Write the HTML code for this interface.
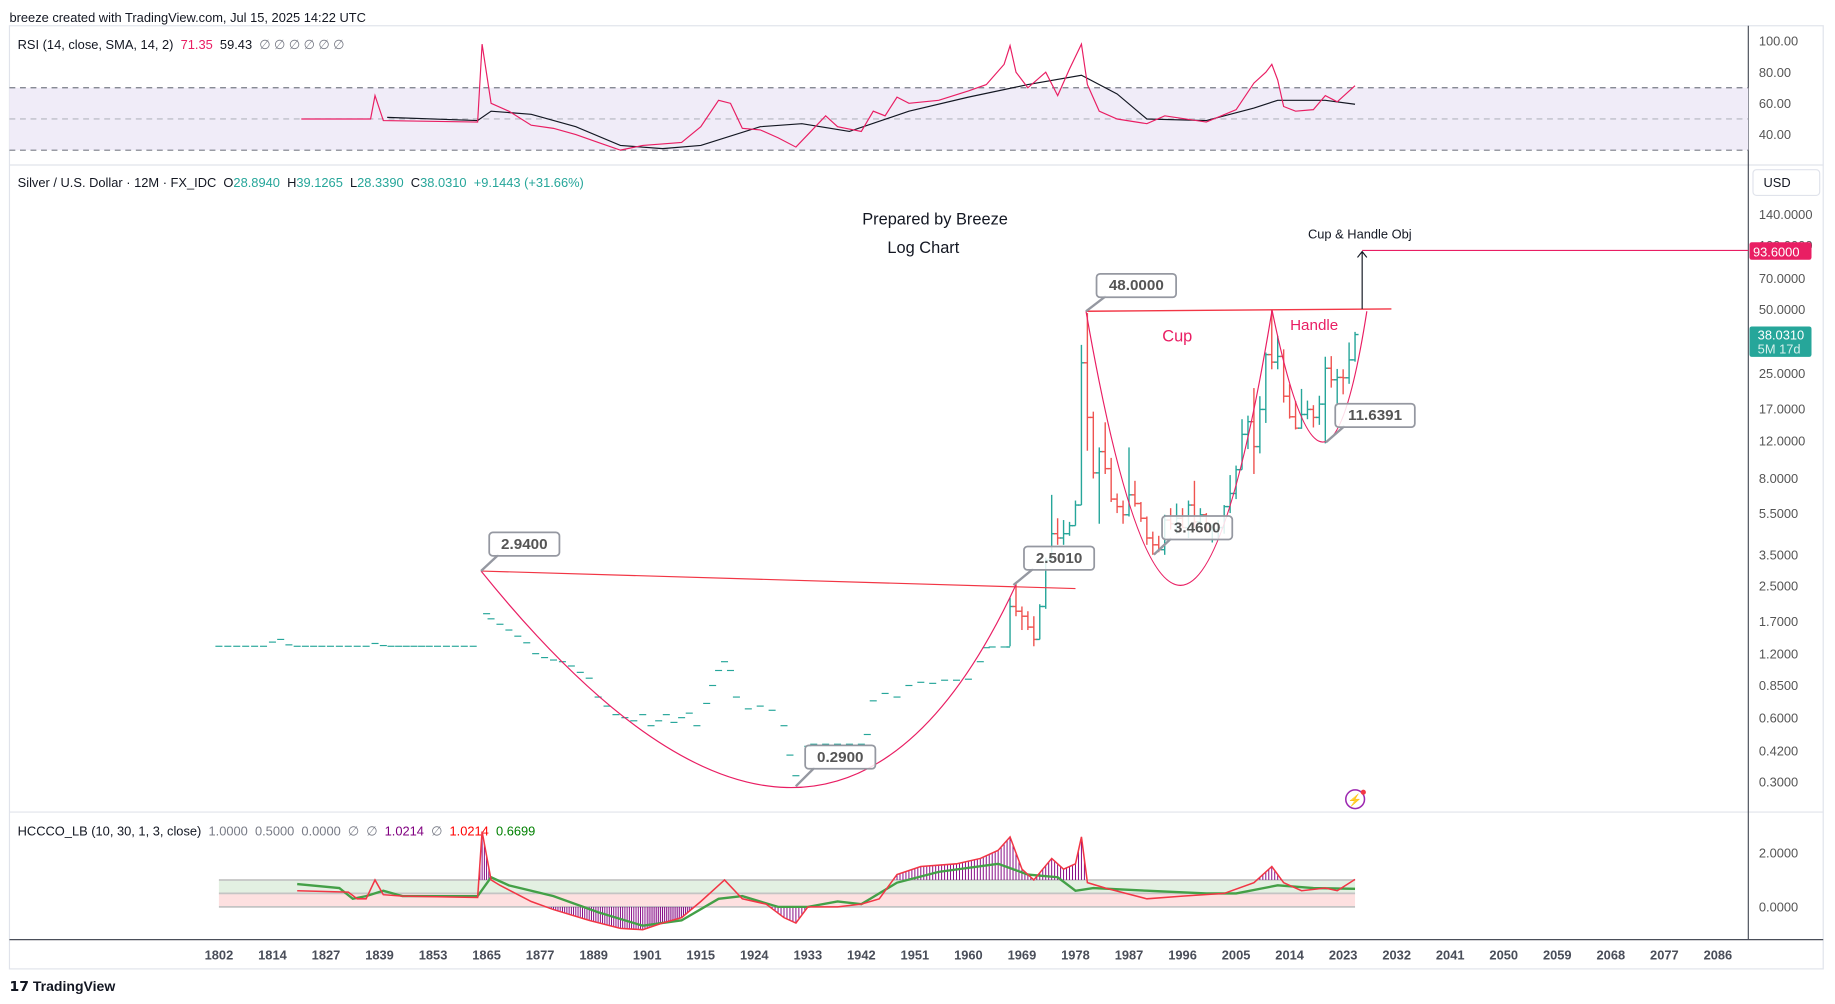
<!DOCTYPE html>
<html><head><meta charset="utf-8">
<style>
html,body{margin:0;padding:0;background:#fff;width:1835px;height:1004px;overflow:hidden}
svg{display:block;font-family:"Liberation Sans",sans-serif}
text{white-space:pre}
</style></head>
<body>
<svg id="chart" width="1835" height="1004" viewBox="0 0 1568 858" xmlns="http://www.w3.org/2000/svg">
<rect x="0" y="0" width="1568" height="858" fill="#fff"/>
<text x="8" y="19" font-size="11" fill="#131722">breeze created with TradingView.com, Jul 15, 2025 14:22 UTC</text>
<rect x="8" y="22" width="1550" height="806" fill="none" stroke="#e0e3eb"/>
<line x1="8" y1="141" x2="1558" y2="141" stroke="#e0e3eb"/>
<line x1="8" y1="694" x2="1558" y2="694" stroke="#e0e3eb"/>
<line x1="8" y1="803" x2="1558" y2="803" stroke="#4a4e59"/>
<line x1="1494" y1="22" x2="1494" y2="803" stroke="#4a4e59"/>
<g id="g"></g>
<text x="8" y="847" font-size="12" font-weight="bold" fill="#131722">𝟭𝟳 TradingView</text>
</svg>
<script>
// ---------- DATA ----------
const timeLabels=[1802,1814,1827,1839,1853,1865,1877,1889,1901,1915,1924,1933,1942,1951,1960,1969,1978,1987,1996,2005,2014,2023,2032,2041,2050,2059,2068,2077,2086];
const earlyYears=[1802,1804,1806,1808,1810,1812,1814,1816,1818,1820,1822,1824,1826,1828,1830,1832,1834,1836,1838,1840,1842,1844,1846,1848,1850,1852,1854,1856,1858,1860,1862,1865,1866,1868,1870,1872,1874,1876,1878,1880,1882,1884,1886,1888,1890,1892,1894,1896,1898,1900,1902,1904,1906,1908,1910,1912,1914,1916,1917,1918,1919,1920,1921,1923,1925,1927,1929,1930,1931,1933,1934,1936,1938,1940,1942,1943,1944,1946,1948,1950,1952,1954,1956,1958,1960,1962,1963,1964,1966];
const earlyCloses=[1.3,1.3,1.3,1.3,1.3,1.3,1.36,1.4,1.32,1.3,1.3,1.3,1.3,1.3,1.3,1.3,1.3,1.3,1.34,1.31,1.3,1.3,1.3,1.3,1.3,1.3,1.3,1.3,1.3,1.3,1.3,1.85,1.75,1.65,1.55,1.45,1.35,1.2,1.15,1.12,1.1,1.05,0.98,0.92,0.75,0.68,0.62,0.6,0.58,0.62,0.55,0.58,0.62,0.57,0.6,0.63,0.55,0.7,0.85,1.0,1.1,1.0,0.75,0.66,0.68,0.65,0.55,0.4,0.32,0.44,0.45,0.45,0.45,0.45,0.45,0.5,0.72,0.78,0.75,0.85,0.88,0.87,0.9,0.9,0.91,1.1,1.28,1.29,1.29];
const barYears=[1967,1968,1969,1970,1971,1972,1973,1974,1975,1976,1977,1978,1979,1980,1981,1982,1983,1984,1985,1986,1987,1988,1989,1990,1991,1992,1993,1994,1995,1996,1997,1998,1999,2000,2001,2002,2003,2004,2005,2006,2007,2008,2009,2010,2011,2012,2013,2014,2015,2016,2017,2018,2019,2020,2021,2022,2023,2024,2025];
const barCloses=[2.0,1.9,1.8,1.6,1.4,2.0,3.3,4.4,4.2,4.4,4.8,6.0,28,15.5,8.5,10.7,8.9,6.4,5.9,5.4,6.7,6.1,5.2,4.2,3.9,3.7,5.1,4.9,5.2,4.7,6.0,5.0,5.4,4.6,4.6,4.7,5.9,6.8,8.8,12.9,14.8,11.3,16.9,30.6,28.2,30.0,19.5,15.6,13.8,16.0,16.9,15.5,17.9,26.4,23.3,23.9,23.8,28.9,38.03];
const barHighs=[2.2,2.56,2.0,1.9,1.8,2.05,3.4,6.7,5.2,5.1,5.0,6.3,34,48,16.5,11.2,14.7,10.0,6.8,6.3,11.2,7.8,6.2,5.3,4.5,4.3,5.4,5.8,6.1,5.8,6.3,7.8,5.8,5.5,4.9,5.1,6.0,8.3,9.2,15.2,15.8,21.3,19.5,31.3,49.8,37.5,32.4,22.2,18.5,21.1,18.6,17.7,19.6,29.9,30.1,26.2,26.1,34.9,39.13];
const barLows=[1.3,1.8,1.55,1.55,1.3,1.4,1.95,3.3,3.9,3.9,4.3,4.8,6.0,10.8,8.0,4.9,8.4,6.2,5.5,4.9,5.3,5.9,5.0,3.9,3.5,3.6,3.5,4.6,4.4,4.7,4.2,4.7,4.9,4.6,4.0,4.2,4.4,5.5,6.4,8.8,11.0,8.4,10.5,14.6,26.1,26.1,18.2,15.3,13.6,13.7,15.2,13.9,14.3,11.7,21.4,17.5,19.9,22.3,28.34];
const priceTicks=[140,100,70,50,25,17,12,8,5.5,3.5,2.5,1.7,1.2,0.85,0.6,0.42,0.3];
const rsiYears=[1821,1837,1838,1840,1863,1864,1866,1870,1875,1880,1885,1890,1895,1900,1905,1910,1915,1918,1920,1922,1925,1928,1931,1933,1936,1938,1942,1944,1946,1948,1950,1955,1960,1963,1966,1967,1968,1970,1973,1975,1977,1979,1980,1982,1985,1990,1993,2000,2005,2008,2010,2011,2012,2013,2015,2018,2020,2022,2025];
const rsiValues=[50,50,65,49,48,98,60,55,46,44,40,35,30,33,34,35,45,62,60,44,43,38,32,40,52,45,42,55,52,64,60,62,68,72,85,97,80,70,80,65,82,98,72,55,50,47,52,48,56,73,80,85,75,58,55,56,65,61,71.35];
const rsiSmaYears=[1841,1863,1866,1875,1885,1895,1905,1915,1925,1932,1940,1950,1960,1970,1979,1985,1990,2000,2008,2012,2020,2025];
const rsiSmaValues=[51,49,55,53,45,33,31,33,45,47,42,55,64,72,78,66,50,49,57,62,62,59.43];
const rsiTicks=[100,80,60,40];
const hcYears=[1820,1832,1834,1836,1838,1840,1845,1863,1864,1866,1868,1875,1880,1888,1895,1900,1905,1910,1915,1919,1922,1926,1929,1931,1933,1938,1942,1945,1948,1952,1958,1962,1965,1967,1969,1971,1974,1976,1978,1979,1980,1983,1990,1996,2003,2008,2011,2013,2016,2020,2022,2025];
const hcRed=[0.6,0.55,0.3,0.3,1.0,0.45,0.4,0.35,2.8,1.0,0.8,0.2,-0.1,-0.5,-0.8,-0.85,-0.6,-0.4,0.2,1.0,0.3,0.1,-0.4,-0.6,0.0,0.0,0.1,0.3,1.2,1.5,1.6,1.8,2.1,2.6,1.4,1.0,1.8,1.4,1.6,2.6,0.9,0.7,0.3,0.4,0.5,0.9,1.5,0.9,0.6,0.7,0.6,1.0214];
const hcGreenYears=[1820,1830,1833,1836,1840,1845,1863,1866,1870,1880,1890,1900,1910,1918,1922,1928,1933,1938,1942,1948,1955,1965,1970,1975,1978,1981,1990,2000,2005,2012,2018,2025];
const hcGreen=[0.85,0.7,0.3,0.4,0.6,0.4,0.4,1.1,0.8,0.4,-0.2,-0.7,-0.5,0.3,0.4,0.0,0.0,0.2,0.1,0.9,1.3,1.6,1.2,1.1,0.6,0.7,0.6,0.5,0.5,0.8,0.7,0.6699];
const hcTicks=[2,0];

// ---------- AXES ----------
const G=document.getElementById('g');
const NS='http://www.w3.org/2000/svg';
function el(tag,attrs,parent){const e=document.createElementNS(NS,tag);for(const k in attrs)e.setAttribute(k,attrs[k]);(parent||G).appendChild(e);return e;}
const X0=187,XSTEP=45.75;
function xOf(yr){for(let i=0;i<timeLabels.length-1;i++){if(yr<=timeLabels[i+1]||i==timeLabels.length-2){return X0+XSTEP*(i+(yr-timeLabels[i])/(timeLabels[i+1]-timeLabels[i]));}}}
function yP(p){return 668-181.7*Math.log10(p/0.3);}
function yR(v){return 35+(100-v)*1.3333;}
function yH(v){return 775-v*23;}
function poly(xs,ys){return xs.map((x,i)=>x.toFixed(1)+','+ys[i].toFixed(1)).join(' ');}

// RSI pane
let r=el('rect',{x:8,y:yR(70),width:1486,height:yR(30)-yR(70),fill:'#f0ecf8'});

[70,50,30].forEach(v=>{const l=el('line',{x1:8,x2:1494,y1:yR(v),y2:yR(v),stroke:v==50?'#b2b5be':'#787b86','stroke-dasharray':'5,4'});
});
rsiTicks.forEach(v=>{const t=el('text',{x:1503,y:yR(v)+4,'font-size':11,fill:'#555'});t.textContent=v.toFixed(2);
});
let rl=el('polyline',{points:poly(rsiSmaYears.map(xOf),rsiSmaValues.map(yR)),fill:'none',stroke:'#131722','stroke-width':1});

rl=el('polyline',{points:poly(rsiYears.map(xOf),rsiValues.map(yR)),fill:'none',stroke:'#e91e63','stroke-width':1});

let lg=el('text',{x:15,y:42,'font-size':11,fill:'#131722'});

lg.innerHTML='RSI (14, close, SMA, 14, 2)  <tspan fill="#e91e63">71.35</tspan>  <tspan fill="#131722">59.43</tspan>  <tspan fill="#787b86">∅ ∅ ∅ ∅ ∅ ∅</tspan>';

// Main pane
lg=el('text',{x:15,y:160,'font-size':11,fill:'#131722'});

lg.innerHTML='Silver / U.S. Dollar · 12M · FX_IDC  O<tspan fill="#26a69a">28.8940</tspan>  H<tspan fill="#26a69a">39.1265</tspan>  L<tspan fill="#26a69a">28.3390</tspan>  C<tspan fill="#26a69a">38.0310</tspan>  <tspan fill="#26a69a">+9.1443 (+31.66%)</tspan>';
let ub=el('rect',{x:1498,y:145,width:57,height:22,rx:3,fill:'#fff',stroke:'#e0e3eb'});

let ut=el('text',{x:1507,y:160,'font-size':11,fill:'#131722'});ut.textContent='USD';

priceTicks.forEach(p=>{const t=el('text',{x:1503,y:yP(p)+4,'font-size':11,fill:'#555'});t.textContent=p.toFixed(4);
});
earlyYears.forEach((yr,i)=>{const x=xOf(yr);const l=el('line',{x1:x-3,x2:x+3,y1:yP(earlyCloses[i]),y2:yP(earlyCloses[i]),stroke:'#26a69a','stroke-width':1});
});
barYears.forEach((yr,i)=>{const x=xOf(yr);const o=i==0?earlyCloses[earlyCloses.length-1]:barCloses[i-1];const c=barCloses[i];
const col=c>=o?'#26a69a':'#ef5350';
const g=el('g',{stroke:col,'stroke-width':1.2});

el('line',{x1:x,x2:x,y1:yP(barHighs[i]),y2:yP(barLows[i])},g);
el('line',{x1:x-3,x2:x,y1:yP(o),y2:yP(o)},g);
el('line',{x1:x,x2:x+3,y1:yP(c),y2:yP(c)},g);});

// Drawings
function d(tag,attrs,name){const e=el(tag,attrs);return e;}
d('line',{x1:411,y1:488,x2:919,y2:503,stroke:'#f23645','stroke-width':1},'neckline-1');
d('line',{x1:928,y1:266,x2:1189,y2:264,stroke:'#f23645','stroke-width':1.2},'neckline-2');
d('path',{d:'M411,488 Q705,852 868,500',fill:'none',stroke:'#e91e63','stroke-width':1},'cup-curve-1');
d('path',{d:'M928,266 Q1010,735 1087,265',fill:'none',stroke:'#e91e63','stroke-width':1},'cup-curve-2');
d('path',{d:'M1087,265 Q1133,490 1168,266',fill:'none',stroke:'#e91e63','stroke-width':1},'handle-curve');
d('line',{x1:1164,y1:264,x2:1164,y2:215,stroke:'#131722','stroke-width':1},'target-arrow');
d('path',{d:'M1160,220 L1164,215 L1168,220',fill:'none',stroke:'#131722','stroke-width':1},'target-arrowhead');
d('line',{x1:1164,y1:214,x2:1494,y2:214,stroke:'#e91e63','stroke-width':1},'target-line');
const callouts=[[418,455,60,'2.9400',411,488],[688,637,60,'0.2900',680,672],[875,467,60,'2.5010',866,500],[937,234,68,'48.0000',928,266],[993,441,60,'3.4600',986,474],[1141,345,68,'11.6391',1133,378]];
callouts.forEach(c=>{const g=el('g',{});
el('line',{x1:c[0]+8,y1:c[1]+19,x2:c[4],y2:c[5],stroke:'#9598a1','stroke-width':2},g);
el('rect',{x:c[0],y:c[1],width:c[2],height:20,rx:3,fill:'#fff','fill-opacity':0.85,stroke:'#9598a1','stroke-width':1.5},g);
const t=el('text',{x:c[0]+c[2]/2,y:c[1]+14,'font-size':13,'font-weight':'bold','text-anchor':'middle',fill:'#555'},g);t.textContent=c[3];});
function tx(x,y,s,txt,name,col,anchor){const t=el('text',{x:x,y:y,'font-size':s,fill:col||'#131722','text-anchor':anchor||'middle'});t.textContent=txt;return t;}
tx(799,192,14,'Prepared by Breeze','title-text');
tx(789,216,14,'Log Chart','subtitle-text');
tx(1006,292,14,'Cup','cup-label','#e91e63');
tx(1123,282,13,'Handle','handle-label','#e91e63');
tx(1162,204,11,'Cup & Handle Obj','target-label');
let pl=el('rect',{x:1495,y:207,width:53,height:15,rx:2,fill:'#e91e63'});
tx(1498,219,11,'93.6000','target-price-text','#fff','start');
pl=el('rect',{x:1495,y:279,width:53,height:26,rx:2,fill:'#26a69a'});
tx(1502,290,11,'38.0310','last-price-text','#fff','start');
tx(1502,302,11,'5M 17d','countdown-text','#d6f0ec','start');
let ic=el('circle',{cx:1158,cy:683,r:8,fill:'none',stroke:'#9c27b0','stroke-width':1.3});
tx(1158,687,10,'⚡','alert-glyph','#9c27b0');
ic=el('circle',{cx:1165,cy:677,r:2.2,fill:'#f23645'});

// HCCCO pane
lg=el('text',{x:15,y:714,'font-size':11,fill:'#131722'});

lg.innerHTML='HCCCO_LB (10, 30, 1, 3, close)  <tspan fill="#787b86">1.0000  0.5000  0.0000  ∅  ∅</tspan>  <tspan fill="#800080">1.0214</tspan>  <tspan fill="#787b86">∅</tspan>  <tspan fill="#ff0000">1.0214</tspan>  <tspan fill="#008000">0.6699</tspan>';
const hx0=xOf(1802),hx1=xOf(2025);
r=el('rect',{x:hx0,y:yH(1),width:hx1-hx0,height:yH(0.5)-yH(1),fill:'#e3f0e2'});
r=el('rect',{x:hx0,y:yH(0.5),width:hx1-hx0,height:yH(0)-yH(0.5),fill:'#fde0e0'});
[1,0.5,0].forEach(v=>{const l=el('line',{x1:hx0,x2:hx1,y1:yH(v),y2:yH(v),stroke:'#c4c4c4','stroke-width':1.5});});
hcTicks.forEach(v=>{const t=el('text',{x:1503,y:yH(v)+4,'font-size':11,fill:'#555'});t.textContent=v.toFixed(4);});
for(let i=0;i<hcYears.length-1;i++){for(let yr=hcYears[i];yr<hcYears[i+1];yr+=0.5){const f=(yr-hcYears[i])/(hcYears[i+1]-hcYears[i]);const v=hcRed[i]+f*(hcRed[i+1]-hcRed[i]);
if(v>1||v<0){const base=v>1?1:0;const l=el('line',{x1:xOf(yr),x2:xOf(yr),y1:yH(base),y2:yH(v),stroke:'#800080','stroke-width':0.8});}}}
let hl=el('polyline',{points:poly(hcGreenYears.map(xOf),hcGreen.map(yH)),fill:'none',stroke:'#43a047','stroke-width':2});
hl=el('polyline',{points:poly(hcYears.map(xOf),hcRed.map(yH)),fill:'none',stroke:'#f23645','stroke-width':1.3});

// Time axis
timeLabels.forEach(yr=>{const t=el('text',{x:xOf(yr),y:820,'font-size':11,'font-weight':'bold','text-anchor':'middle',fill:'#4a4e59'});t.textContent=yr;});
</script>
</body></html>
